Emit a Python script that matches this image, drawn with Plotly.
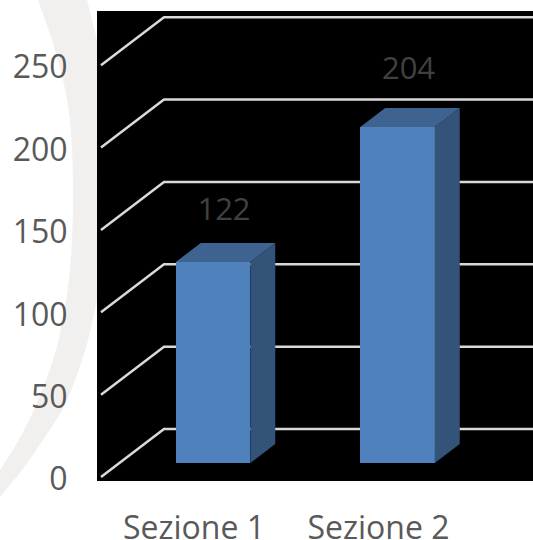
import plotly.graph_objects as go

categories = ["Sezione 1", "Sezione 2"]
values = [122, 204]
y_ticks = [0, 50, 100, 150, 200, 250]

W, H = 533, 540
FONT = "Open Sans"
PX_PER_X = 184.5           # pixels per category step
PX_PER_Y = 1.647           # pixels per value unit
BAR_WIDTH = 0.404
# 3D offsets, in axis units
FLOOR_Y = 14 / PX_PER_Y    # front face of the bars sits above the wall's front edge
BAR_DX = 25 / PX_PER_X
BAR_DY = 19 / PX_PER_Y
WALL_X0 = (101 - 213) / PX_PER_X   # front end of the slanted gridlines
WALL_X1 = (164 - 213) / PX_PER_X   # back corner
WALL_X2 = (533 - 213) / PX_PER_X
WALL_DY = 48 / PX_PER_Y
LABEL_DX = 11 / PX_PER_X
LABEL_LIFT_PX = [50, 56]
CATEGORY_TICK_SHIFT = -19 / PX_PER_X
VALUE_TICK_SHIFT = -2 / PX_PER_Y

xs = list(range(len(categories)))
fig = go.Figure()

# bars: side, top, front
for x, v in zip(xs, values):
    x0, x1 = x - BAR_WIDTH / 2, x + BAR_WIDTH / 2
    top = v + FLOOR_Y
    fig.add_trace(go.Scatter(
        x=[x1, x1 + BAR_DX, x1 + BAR_DX, x1, x1],
        y=[FLOOR_Y, FLOOR_Y + BAR_DY, top + BAR_DY, top, FLOOR_Y],
        fill="toself", fillcolor="#335378", mode="none",
        hoverinfo="skip", showlegend=False))
    fig.add_trace(go.Scatter(
        x=[x0, x0 + BAR_DX, x1 + BAR_DX, x1, x0],
        y=[top, top + BAR_DY, top + BAR_DY, top, top],
        fill="toself", fillcolor="#3F6391", mode="none",
        hoverinfo="skip", showlegend=False))

fig.add_trace(go.Bar(
    x=xs, y=values, base=[FLOOR_Y] * len(values), width=BAR_WIDTH,
    marker=dict(color="#4F81BD", line=dict(width=0)),
    showlegend=False))

# data labels
fig.add_trace(go.Scatter(
    x=[x + LABEL_DX for x in xs],
    y=[v + FLOOR_Y + lift / PX_PER_Y for v, lift in zip(values, LABEL_LIFT_PX)],
    mode="text", text=[str(v) for v in values],
    textfont=dict(family=FONT, size=31, color="#404040"),
    hoverinfo="skip", showlegend=False))


def smooth(points):
    """Catmull-Rom outline through pixel points, as SVG cubic segments in paper fractions."""
    def fmt(p):
        return f"{p[0] / W:.4f},{1 - p[1] / H:.4f}"
    out = []
    for i in range(len(points) - 1):
        p0 = points[max(i - 1, 0)]
        p1 = points[i]
        p2 = points[i + 1]
        p3 = points[min(i + 2, len(points) - 1)]
        c1 = (p1[0] + (p2[0] - p0[0]) / 6, p1[1] + (p2[1] - p0[1]) / 6)
        c2 = (p2[0] - (p3[0] - p1[0]) / 6, p2[1] - (p3[1] - p1[1]) / 6)
        out.append(f"C {fmt(c1)} {fmt(c2)} {fmt(p2)}")
    return f"{fmt(points[0])} " + " ".join(out)


# pale arc behind the chart (page decoration)
arc_left = [(38, 0), (52, 40), (63, 80), (70, 120), (73, 180), (72, 240), (67, 295),
            (56, 350), (36, 405), (17, 443), (0, 470)]
arc_right = [(0, 497), (22, 470), (43, 440), (62, 410), (77, 375), (88, 340), (97, 300)]
arc_path = ("M " + smooth(arc_left) + " L " + smooth(arc_right)
            + f" L {97 / W:.4f},{1 - 40 / H:.4f} L {87 / W:.4f},1 Z")

shapes = [dict(type="path", xref="paper", yref="paper", layer="below", path=arc_path,
               fillcolor="#F2F0EE", line=dict(width=0))]
for t in y_ticks:
    shapes.append(dict(
        type="path", xref="x", yref="y", layer="below",
        path=f"M {WALL_X0},{t} L {WALL_X1},{t + WALL_DY} L {WALL_X2},{t + WALL_DY}",
        line=dict(color="#D9D9D9", width=2.5)))

fig.update_layout(
    width=W, height=H, autosize=False,
    margin=dict(l=0, r=0, t=0, b=0),
    paper_bgcolor="#FFFFFF", plot_bgcolor="#000000",
    showlegend=False, bargap=0,
    shapes=shapes,
    xaxis=dict(
        automargin=False,
        domain=[97 / W, 1],
        range=[(97 - 213) / PX_PER_X, (533 - 213) / PX_PER_X],
        tickmode="array", tickvals=[x + CATEGORY_TICK_SHIFT for x in xs], ticktext=categories,
        tickfont=dict(family=FONT, size=32, color="#595959"),
        showgrid=False, zeroline=False, showline=False,
        ticks="outside", ticklen=19, tickcolor="rgba(0,0,0,0)"),
    yaxis=dict(
        automargin=False,
        domain=[1 - 481 / H, 1 - 11 / H],
        range=[(477 - 481) / PX_PER_Y, (477 - 11) / PX_PER_Y],
        tickmode="array", tickvals=[t + VALUE_TICK_SHIFT for t in y_ticks],
        ticktext=[str(t) for t in y_ticks],
        tickfont=dict(family=FONT, size=32, color="#595959"),
        showgrid=False, zeroline=False, showline=False,
        ticks="outside", ticklen=22, tickcolor="rgba(0,0,0,0)"),
)
fig.write_html(
    "out.html", config=dict(displayModeBar=False),
    post_script="document.body.style.margin='0';document.documentElement.style.overflow='hidden';")
